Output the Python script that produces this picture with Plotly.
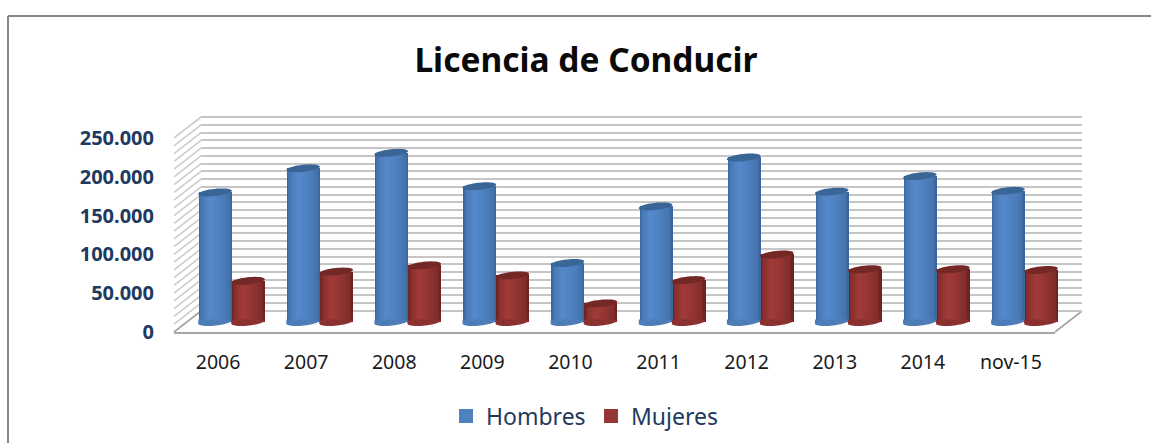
import numpy as np
import plotly.graph_objects as go

W, H = 1151, 443

categories = ["2006", "2007", "2008", "2009", "2010", "2011", "2012", "2013", "2014", "nov-15"]
hombres = [167000, 198000, 218000, 175000, 76000, 149000, 212000, 168000, 188000, 169000]
mujeres = [53000, 65000, 73000, 60000, 24000, 54000, 87000, 68000, 68000, 67000]
y_ticks = [0, 50000, 100000, 150000, 200000, 250000]
y_labels = ["0", "50.000", "100.000", "150.000", "200.000", "250.000"]
grid_step = 10000
title_text = "Licencia de Conducir"

NAVY = "#1f3a60"
positions = list(range(len(categories)))


def fx(p):
    return p / W


def fy(p):
    return 1 - p / H


def mix(a, b, t):
    a = [int(a[i:i + 2], 16) for i in (1, 3, 5)]
    b = [int(b[i:i + 2], 16) for i in (1, 3, 5)]
    return "#%02x%02x%02x" % tuple(round(u + (v - u) * t) for u, v in zip(a, b))


BAR_W = 0.375
LAYERS = 9
fig = go.Figure()

# back wall grid
fig.add_trace(go.Scatter(x=[0], y=[0], xaxis="x", yaxis="y", mode="none", showlegend=False, hoverinfo="skip"))
# front axis with the labels
fig.add_trace(go.Scatter(x=[0], y=[0], xaxis="x2", yaxis="y2", mode="none", showlegend=False, hoverinfo="skip"))


def cylinder(name, values, side, edge, light):
    for i in range(LAYERS):
        t = i / (LAYERS - 1)
        left = 0.30 * t
        right = 1 - 0.60 * t
        fig.add_trace(go.Bar(
            x=positions, y=values, xaxis="x3", yaxis="y3",
            name=name, legendgroup=name,
            showlegend=False,
            width=BAR_W * (right - left),
            offset=(side + left) * BAR_W,
            marker=dict(color=mix(edge, light, t ** 0.5), line=dict(width=0)),
            text=categories, textposition="none",
            hovertemplate=name + " %{text}: %{y}<extra></extra>" if i == LAYERS - 1 else None,
            hoverinfo=None if i == LAYERS - 1 else "skip",
        ))


def caps(values, side, cap_col, foot_col):
    a, b, tilt = 16.8, 3.6, -0.10
    off = (side + 0.5) * BAR_W * 881 / 10
    t = np.linspace(0, 2 * np.pi, 40)
    for pos, v in zip(positions, values):
        px = a * np.cos(t) + off
        py = b * np.sin(t) + a * np.cos(t) * (-tilt)
        d = "M" + "L".join(f"{u:.1f},{w:.1f}" for u, w in zip(px, py)) + "Z"
        fig.add_shape(type="path", path=d, xref="x3", yref="y3", xsizemode="pixel", ysizemode="pixel",
                      xanchor=pos, yanchor=v, fillcolor=cap_col, line=dict(width=0), layer="above")
        # foot: lower arc plus a thin band up into the bar, so the tilted arc leaves no gap
        tb = np.linspace(np.pi, 2 * np.pi, 24)
        px = list(a * np.cos(tb) + off)
        py = list(b * np.sin(tb) + a * np.cos(tb) * (-tilt))
        px = [off - a] + px + [off + a]
        py = [2.5] + py + [2.5]
        d = "M" + "L".join(f"{u:.1f},{w:.1f}" for u, w in zip(px, py)) + "Z"
        fig.add_shape(type="path", path=d, xref="x3", yref="y3", xsizemode="pixel", ysizemode="pixel",
                      xanchor=pos, yanchor=0, fillcolor=foot_col, line=dict(width=0), layer="above")


cylinder("Hombres", hombres, -1, "#3c689e", "#5488ca")
cylinder("Mujeres", mujeres, 0, "#6c2423", "#9f3a37")
caps(hombres, -1, "#3a6597", "#4c7db9")
caps(mujeres, 0, "#732826", "#8a302e")

# legend entries
fig.add_trace(go.Bar(x=[0], y=[None], xaxis="x3", yaxis="y3", name="Hombres",
                     marker=dict(color="#4f81bd", line=dict(width=2, color="#4f81bd"))))
fig.add_trace(go.Bar(x=[0], y=[None], xaxis="x3", yaxis="y3", name="Mujeres",
                     marker=dict(color="#953735", line=dict(width=2, color="#953735"))))

shapes = []
FRONT_L, BACK_L, FRONT_R, BACK_R = 174, 201, 1055, 1082
FRONT_0, BACK_0 = 332, 311
SCALE = 194 / 250000
PAD = 2  # pixels of slack so the first and last gridlines are kept
for v in range(0, 250001, grid_step):
    shapes.append(dict(type="line", xref="paper", yref="paper",
                       x0=fx(FRONT_L), x1=fx(BACK_L),
                       y0=fy(FRONT_0 - v * SCALE), y1=fy(BACK_0 - v * SCALE),
                       line=dict(color="#cccccc" if v else "#a6a6a6", width=1.6), layer="below"))
shapes.append(dict(type="line", xref="paper", yref="paper", x0=fx(FRONT_R), x1=fx(BACK_R),
                   y0=fy(FRONT_0), y1=fy(BACK_0), line=dict(color="#a6a6a6", width=1.6), layer="below"))
shapes.append(dict(type="line", xref="paper", yref="paper", x0=fx(8), x1=1, y0=fy(16), y1=fy(16),
                   line=dict(color="#868686", width=2), layer="below"))
shapes.append(dict(type="line", xref="paper", yref="paper", x0=fx(8), x1=fx(8), y0=fy(16), y1=0,
                   line=dict(color="#868686", width=2), layer="below"))
for s in shapes:
    fig.add_shape(**s)

hidden = dict(showgrid=False, zeroline=False, showticklabels=False, ticks="", showline=False)
fig.update_layout(
    width=W, height=H, autosize=False,
    margin=dict(l=0, r=0, t=0, b=0, pad=0, autoexpand=False),
    paper_bgcolor="white", plot_bgcolor="rgba(0,0,0,0)",
    barmode="overlay", bargap=0,
    showlegend=True,
    hovermode="closest",
    title=dict(text=f"<b>{title_text}</b>", x=586 / W, xanchor="center", y=fy(60), yanchor="middle",
               font=dict(family="Noto Sans", size=33.5, color="#0a0a0a")),
    legend=dict(orientation="h", x=446 / W, xanchor="left", y=fy(416), yanchor="middle",
                font=dict(family="Noto Sans", size=23, color=NAVY), itemwidth=30,
                entrywidth=100, entrywidthmode="pixels",
                traceorder="normal", bgcolor="rgba(0,0,0,0)", itemclick=False, itemdoubleclick=False),
    xaxis=dict(domain=[fx(BACK_L), fx(BACK_R)], range=[0, 1], anchor="y", **hidden),
    yaxis=dict(domain=[fy(BACK_0 + PAD), fy(BACK_0 - 250000 * SCALE - PAD)],
               range=[-PAD / SCALE, 250000 + PAD / SCALE], anchor="x",
               tickmode="linear", tick0=0,
               showgrid=True, dtick=grid_step, gridcolor="#c6c6c6", gridwidth=2, zeroline=False,
               showticklabels=False, ticks="", showline=False),
    xaxis2=dict(domain=[fx(FRONT_L), fx(FRONT_R)], range=[-0.5, 9.5], anchor="y2",
                tickmode="array", tickvals=positions, ticktext=categories,
                showgrid=False, zeroline=False, showline=True, linecolor="#a6a6a6", linewidth=2, ticks="",
                ticklabelstandoff=12, tickfont=dict(family="Noto Sans", size=19.5, color="#1a1a1a")),
    yaxis2=dict(domain=[fy(FRONT_0), fy(FRONT_0 - 250000 * SCALE)], range=[0, 250000], anchor="x2",
                tickmode="array", tickvals=y_ticks, ticktext=y_labels,
                showgrid=False, zeroline=False, showline=False, ticks="",
                ticklabelstandoff=19, tickfont=dict(family="Noto Sans", size=20, color=NAVY, weight="bold")),
    xaxis3=dict(domain=[fx(FRONT_L + 13.5), fx(FRONT_R + 13.5)], range=[-0.5, 9.5], anchor="y3", **hidden),
    # the axis runs 10 px below the zero line so the round feet are not clipped
    yaxis3=dict(domain=[fy(332), fy(322 - 250000 * SCALE)], range=[-10 / SCALE, 250000], anchor="x3", **hidden),
)

fig.write_html("out.html", config={"displayModeBar": False},
               post_script="document.body.style.margin='0';document.body.style.overflow='hidden';")
